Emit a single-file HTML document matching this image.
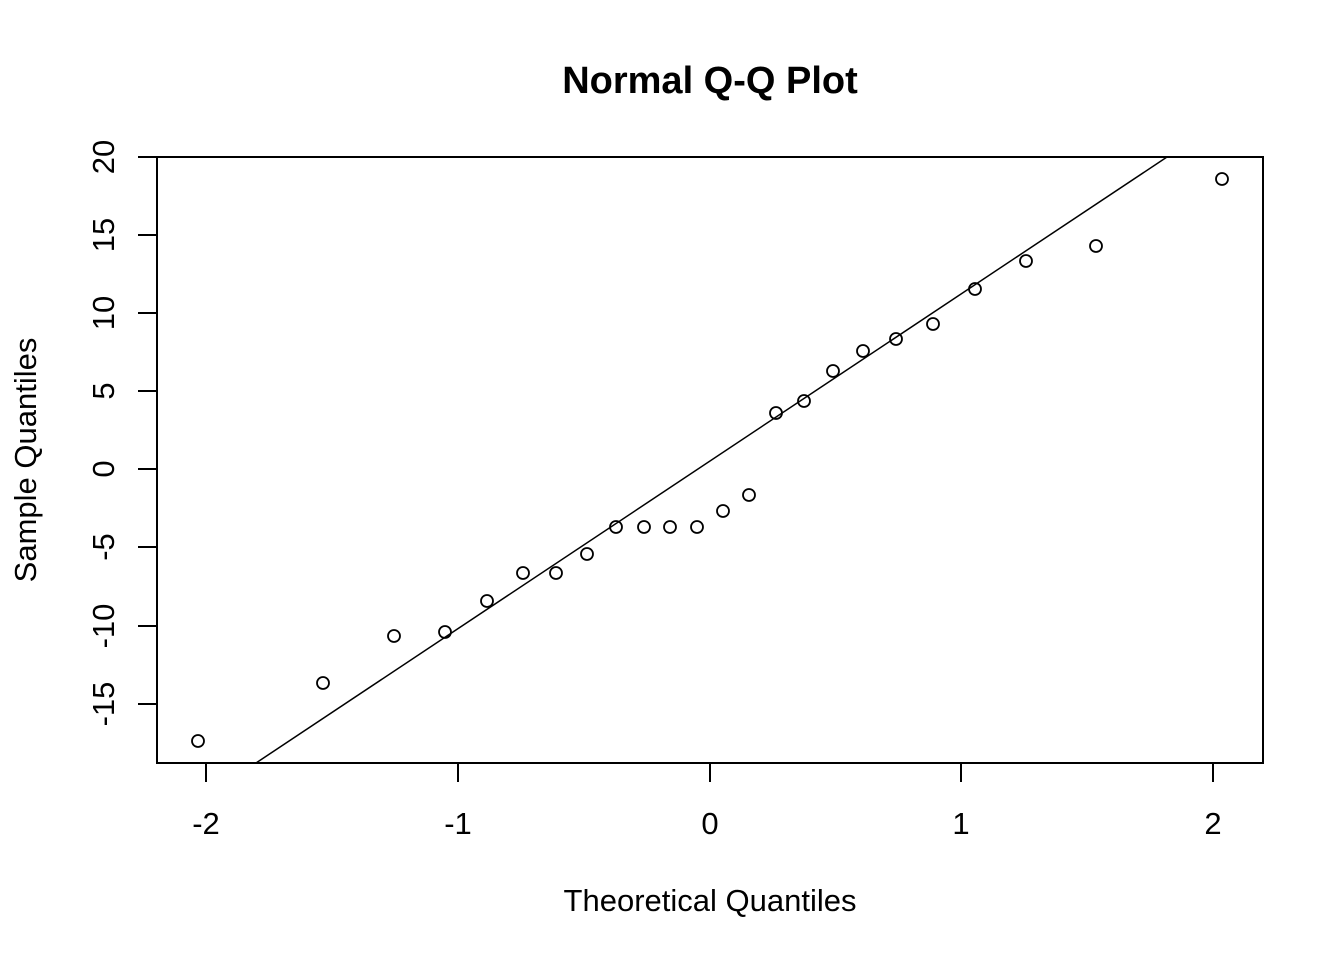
<!DOCTYPE html>
<html><head><style>body{margin:0;background:#fff}svg{display:block}text{font-family:"Liberation Sans",Arial,sans-serif;fill:#000}</style></head>
<body>
<svg width="1344" height="960" viewBox="0 0 1344 960">
<rect width="1344" height="960" fill="#fff"/>
<text x="710" y="93" font-size="38" font-weight="bold" text-anchor="middle">Normal Q-Q Plot</text>
<rect x="157" y="157" width="1106" height="606" fill="none" stroke="#000" stroke-width="2"/>
<g stroke="#000" stroke-width="2">
<line x1="206" y1="763" x2="1213" y2="763"/>
<line x1="206" y1="763" x2="206" y2="782"/><line x1="458" y1="763" x2="458" y2="782"/><line x1="710" y1="763" x2="710" y2="782"/><line x1="961" y1="763" x2="961" y2="782"/><line x1="1213" y1="763" x2="1213" y2="782"/>
<line x1="157" y1="157" x2="157" y2="704"/>
<line x1="138" y1="157" x2="157" y2="157"/><line x1="138" y1="235" x2="157" y2="235"/><line x1="138" y1="313" x2="157" y2="313"/><line x1="138" y1="391" x2="157" y2="391"/><line x1="138" y1="469" x2="157" y2="469"/><line x1="138" y1="547" x2="157" y2="547"/><line x1="138" y1="626" x2="157" y2="626"/><line x1="138" y1="704" x2="157" y2="704"/>
</g>
<g font-size="31" text-anchor="middle">
<text x="206" y="834">-2</text><text x="458" y="834">-1</text><text x="710" y="834">0</text><text x="961" y="834">1</text><text x="1213" y="834">2</text>
<text x="710" y="911">Theoretical Quantiles</text>
<text transform="translate(114,157) rotate(-90)">20</text>
<text transform="translate(114,235) rotate(-90)">15</text>
<text transform="translate(114,313) rotate(-90)">10</text>
<text transform="translate(114,391) rotate(-90)">5</text>
<text transform="translate(114,469) rotate(-90)">0</text>
<text transform="translate(114,547) rotate(-90)">-5</text>
<text transform="translate(114,626) rotate(-90)">-10</text>
<text transform="translate(114,704) rotate(-90)">-15</text>
<text transform="translate(36,460) rotate(-90)">Sample Quantiles</text>
</g>
<line x1="256" y1="763" x2="1167" y2="157" stroke="#000" stroke-width="1.5"/>
<g fill="none" stroke="#000" stroke-width="1.8">
<circle cx="198" cy="741" r="6"/><circle cx="323" cy="683" r="6"/><circle cx="394" cy="636" r="6"/><circle cx="445" cy="632" r="6"/><circle cx="487" cy="601" r="6"/><circle cx="523" cy="573" r="6"/><circle cx="556" cy="573" r="6"/><circle cx="587" cy="554" r="6"/><circle cx="616" cy="527" r="6"/><circle cx="644" cy="527" r="6"/><circle cx="670" cy="527" r="6"/><circle cx="697" cy="527" r="6"/><circle cx="723" cy="511" r="6"/><circle cx="749" cy="495" r="6"/><circle cx="776" cy="413" r="6"/><circle cx="804" cy="401" r="6"/><circle cx="833" cy="371" r="6"/><circle cx="863" cy="351" r="6"/><circle cx="896" cy="339" r="6"/><circle cx="933" cy="324" r="6"/><circle cx="975" cy="289" r="6"/><circle cx="1026" cy="261" r="6"/><circle cx="1096" cy="246" r="6"/><circle cx="1222" cy="179" r="6"/>
</g>
</svg>
</body></html>
